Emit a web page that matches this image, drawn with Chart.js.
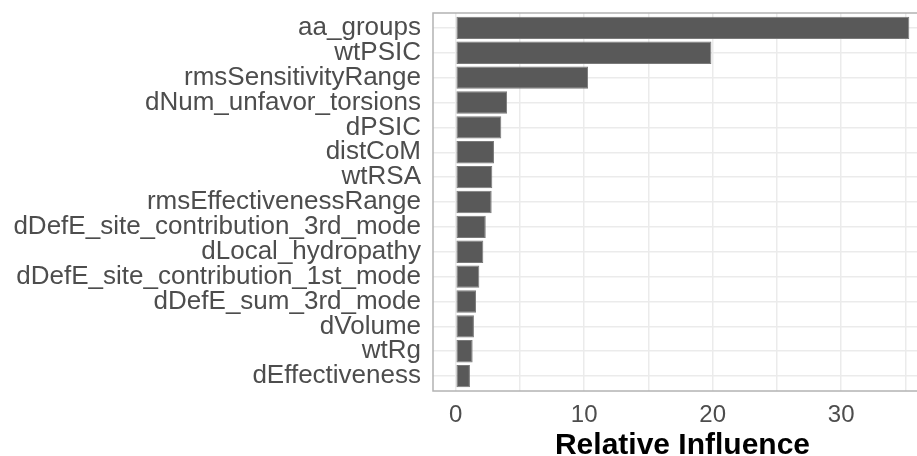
<!DOCTYPE html>
<html>
<head>
<meta charset="utf-8">
<script src="https://cdn.jsdelivr.net/npm/chart.js@4.4.1/dist/chart.umd.min.js"></script>
<style>
html, body { margin: 0; padding: 0; background: #fff; overflow: hidden; }
</style>
</head>
<body>
<canvas id="barChart" width="933" height="456"></canvas>
<script>
let FEATURES = ['aa_groups', 'wtPSIC', 'rmsSensitivityRange', 'dNum_unfavor_torsions', 'dPSIC',
    'distCoM', 'wtRSA', 'rmsEffectivenessRange', 'dDefE_site_contribution_3rd_mode',
    'dLocal_hydropathy', 'dDefE_site_contribution_1st_mode', 'dDefE_sum_3rd_mode',
    'dVolume', 'wtRg', 'dEffectiveness'];
let INFLUENCE = [35.3, 19.9, 10.3, 4.0, 3.55, 2.98, 2.85, 2.8, 2.34, 2.15, 1.84, 1.58, 1.42, 1.32, 1.11];
let X_TICKS = [0, 5, 10, 15, 20, 25, 30, 35];
let X_LABELS = [0, 10, 20, 30];

let FONT = "'Liberation Sans', Arial, sans-serif";
let CHART = document.getElementById("barChart");

// ggplot style frame around the panel
let panelFrame = {
    id: 'panelFrame',
    afterDraw(chart) {
        let a = chart.chartArea;
        let ctx = chart.ctx;
        ctx.save();
        ctx.strokeStyle = '#b3b3b3';
        ctx.lineWidth = 1.5;
        ctx.strokeRect(a.left, a.top, a.right - a.left, a.bottom - a.top);
        ctx.restore();
    }
};

let data = {
    type: 'bar',
    data: {
        datasets: [
            {
                label: 'Relative Influence',
                data: INFLUENCE.map((v, i) => ({ x: v, y: i })),
                backgroundColor: '#595959',
                borderColor: '#7a7a7a',
                borderWidth: 1,
                borderSkipped: false,
                barPercentage: 0.9,
                categoryPercentage: 1
            }
        ]
    },
    options: {
        indexAxis: 'y',
        responsive: false,
        animation: false,
        layout: { padding: { left: 0, right: 1, top: 13, bottom: 0 } },
        plugins: {
            legend: { display: false },
            tooltip: { enabled: false }
        },
        scales: {
            x: {
                type: 'linear',
                min: -1.765,
                max: 37.065,
                afterBuildTicks: s => { s.ticks = X_TICKS.map(v => ({ value: v })); },
                afterFit: s => { s.height = 65; s.paddingLeft = 0; s.paddingRight = 0; },
                grid: { color: '#ebebeb', lineWidth: 1.5, drawTicks: false },
                border: { display: false },
                ticks: {
                    padding: 10,
                    color: '#4d4d4d',
                    font: { family: FONT, size: 24 },
                    autoSkip: false,
                    maxRotation: 0,
                    callback: v => X_LABELS.includes(v) ? String(v) : ''
                },
                title: {
                    display: true,
                    text: 'Relative Influence',
                    color: '#000',
                    font: { family: FONT, size: 30, weight: 'bold', lineHeight: 1 },
                    padding: { top: 0, bottom: -5 }
                }
            },
            y: {
                type: 'linear',
                reverse: true,
                offset: false,
                min: -0.6,
                max: 14.6,
                afterBuildTicks: s => { s.ticks = FEATURES.map((f, i) => ({ value: i })); },
                afterFit: s => { s.width = 433; s.paddingTop = 0; s.paddingBottom = 0; },
                grid: { color: '#ebebeb', lineWidth: 1.5, drawTicks: false, offset: false },
                border: { display: false },
                ticks: {
                    padding: 12,
                    color: '#4d4d4d',
                    font: { family: FONT, size: 26 },
                    autoSkip: false,
                    callback: v => FEATURES[v]
                }
            }
        }
    },
    plugins: [panelFrame]
};

new Chart(CHART, data);
</script>
</body>
</html>
